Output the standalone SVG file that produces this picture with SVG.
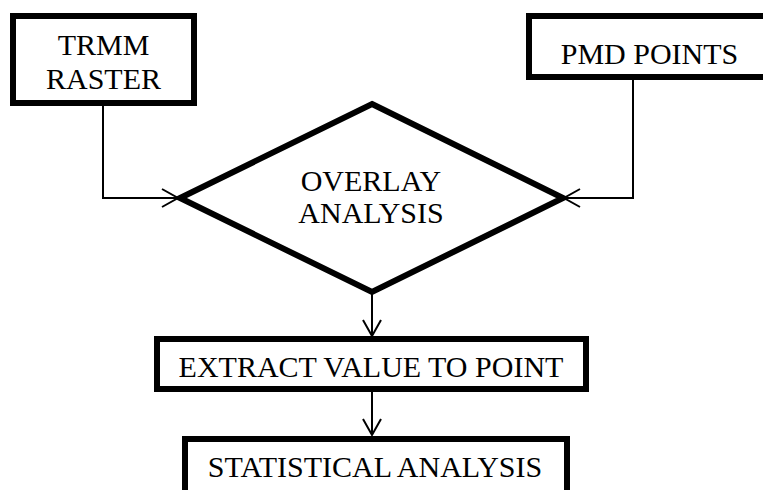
<svg xmlns="http://www.w3.org/2000/svg" width="763" height="490" viewBox="0 0 763 490">
<style>
.box{fill:#fff;stroke:#000;stroke-width:6}
.dia{fill:#fff;stroke:#000;stroke-width:6;stroke-linejoin:miter}
.t{font-family:"Liberation Serif","Times New Roman",serif;font-size:30px;fill:#000;text-anchor:middle}
.c{fill:none;stroke:#000;stroke-width:2}
</style>
<rect width="763" height="490" fill="#fff"/>
<g id="connectors">
<polyline class="c" points="103,106 103,198 178,198"/>
<polyline class="c" points="162,189 178,198 162,207"/>
<polyline class="c" points="633,80 633,198 564,198"/>
<polyline class="c" points="580,189 564,198 580,207"/>
<line class="c" x1="372" y1="292" x2="372" y2="336"/>
<polyline class="c" points="363,320 372,336 381,320"/>
<line class="c" x1="372" y1="392" x2="372" y2="435"/>
<polyline class="c" points="363,419 372,435 381,419"/>
</g>
<g id="trmm">
<rect class="box" x="13" y="16" width="181" height="87"/>
<text class="t" x="103.5" y="55">TRMM</text>
<text class="t" x="103.5" y="89">RASTER</text>
</g>
<g id="pmd">
<rect class="box" x="529" y="16" width="250" height="61"/>
<text class="t" x="649.5" y="64">PMD POINTS</text>
</g>
<g id="overlay">
<polygon class="dia" points="372,104 563,198 372,292 180,198"/>
<text class="t" x="371" y="191">OVERLAY</text>
<text class="t" x="371" y="223">ANALYSIS</text>
</g>
<g id="extract">
<rect class="box" x="157" y="339" width="429" height="50"/>
<text class="t" x="371" y="377">EXTRACT VALUE TO POINT</text>
</g>
<g id="stat">
<rect class="box" x="185" y="439" width="382" height="70"/>
<text class="t" x="375" y="477">STATISTICAL ANALYSIS</text>
</g>
</svg>
